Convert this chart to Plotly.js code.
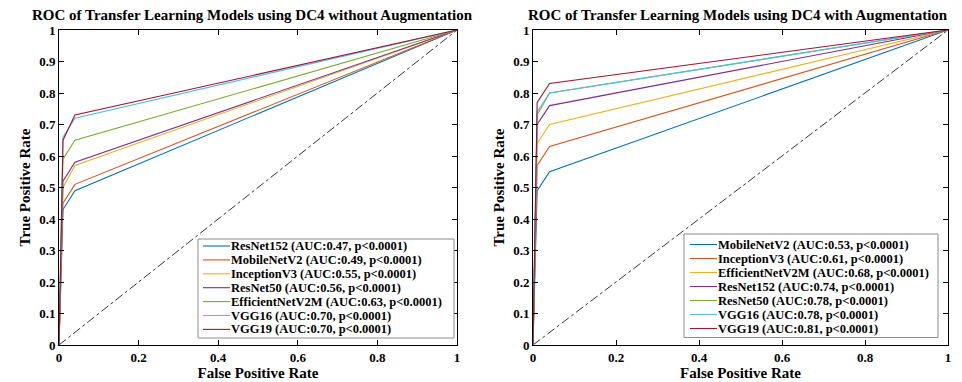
<!DOCTYPE html>
<html>
<head>
<meta charset="utf-8">
<script src="https://cdn.plot.ly/plotly-3.0.1.min.js"></script>
<style>html,body{margin:0;padding:0;background:#fff;}#chart{width:962px;height:382px;}</style>
</head>
<body>
<div id="chart"></div>
<script>
// ---- data ----
const fpr = [0, 0.01, 0.04, 1];
const chance = [0, 1];

// Left panel: DC4 without augmentation
const namesLeft = ['ResNet152', 'MobileNetV2', 'InceptionV3', 'ResNet50', 'EfficientNetV2M', 'VGG16', 'VGG19'];
const aucLeft = ['0.47', '0.49', '0.55', '0.56', '0.63', '0.70', '0.70'];
const tprLeft_ResNet152 = [0, 0.43, 0.49, 1];
const tprLeft_MobileNetV2 = [0, 0.45, 0.51, 1];
const tprLeft_InceptionV3 = [0, 0.50, 0.57, 1];
const tprLeft_ResNet50 = [0, 0.52, 0.58, 1];
const tprLeft_EfficientNetV2M = [0, 0.59, 0.65, 1];
const tprLeft_VGG16 = [0, 0.66, 0.72, 1];
const tprLeft_VGG19 = [0, 0.65, 0.73, 1];

// Right panel: DC4 with augmentation
const namesRight = ['MobileNetV2', 'InceptionV3', 'EfficientNetV2M', 'ResNet152', 'ResNet50', 'VGG16', 'VGG19'];
const aucRight = ['0.53', '0.61', '0.68', '0.74', '0.78', '0.78', '0.81'];
const tprRight_MobileNetV2 = [0, 0.49, 0.55, 1];
const tprRight_InceptionV3 = [0, 0.57, 0.63, 1];
const tprRight_EfficientNetV2M = [0, 0.64, 0.70, 1];
const tprRight_ResNet152 = [0, 0.70, 0.76, 1];
const tprRight_ResNet50 = [0, 0.73, 0.80, 1];
const tprRight_VGG16 = [0, 0.74, 0.80, 1];
const tprRight_VGG19 = [0, 0.77, 0.83, 1];

const pText = 'p<0.0001';
const xTicks = [0, 0.2, 0.4, 0.6, 0.8, 1];
const yTicks = [0, 0.1, 0.2, 0.3, 0.4, 0.5, 0.6, 0.7, 0.8, 0.9, 1];

// ---- styling ----
const colors = ['#0072BD', '#D95319', '#EDB120', '#7E2F8E', '#77AC30', '#4DBEEE', '#A2142F'];
const FONT = '"Liberation Serif", "Times New Roman", serif';
const W = 962, H = 382;
const px = x => x / W;
const py = y => 1 - y / H;

const leftSeries = [tprLeft_ResNet152, tprLeft_MobileNetV2, tprLeft_InceptionV3, tprLeft_ResNet50, tprLeft_EfficientNetV2M, tprLeft_VGG16, tprLeft_VGG19];
const rightSeries = [tprRight_MobileNetV2, tprRight_InceptionV3, tprRight_EfficientNetV2M, tprRight_ResNet152, tprRight_ResNet50, tprRight_VGG16, tprRight_VGG19];

const traces = [];
function addPanel(series, names, aucs, xa, ya) {
  traces.push({x: chance, y: chance, xaxis: xa, yaxis: ya, mode: 'lines', showlegend: false,
    line: {color: '#000', width: 0.8, dash: 'dashdot'}, hoverinfo: 'skip'});
  series.forEach((s, i) => {
    traces.push({x: fpr, y: s, xaxis: xa, yaxis: ya, mode: 'lines', showlegend: false,
      name: names[i] + ' (AUC:' + aucs[i] + ', ' + pText + ')',
      line: {color: colors[i], width: 1.1}});
  });
}
addPanel(leftSeries, namesLeft, aucLeft, 'x', 'y');
addPanel(rightSeries, namesRight, aucRight, 'x2', 'y2');

const tickFont = {family: FONT, size: 13, color: '#000', weight: 'bold'};
const titleFont = {family: FONT, size: 15, color: '#000', weight: 'bold'};
function axisX(domain, anchor) {
  return {domain: domain, anchor: anchor, range: [0, 1], tickvals: xTicks, ticktext: xTicks.map(String),
    showline: true, linecolor: '#000', linewidth: 1, mirror: 'ticks', ticks: 'inside', ticklen: 5,
    tickcolor: '#000', showgrid: false, zeroline: false, tickfont: tickFont,
    title: {text: 'False Positive Rate', font: titleFont, standoff: 2}};
}
function axisY(domain, anchor) {
  return {domain: domain, anchor: anchor, range: [0, 1], tickvals: yTicks, ticktext: yTicks.map(String),
    showline: true, linecolor: '#000', linewidth: 1, mirror: 'ticks', ticks: 'inside', ticklen: 5,
    tickcolor: '#000', showgrid: false, zeroline: false, tickfont: tickFont,
    title: {text: 'True Positive Rate', font: titleFont, standoff: 4}};
}

const yDom = [py(345), py(30)];
const layout = {
  width: W, height: H, margin: {l: 0, r: 0, t: 0, b: 0},
  paper_bgcolor: '#fff', plot_bgcolor: '#fff', showlegend: false,
  xaxis: axisX([px(59), px(457)], 'y'),
  yaxis: axisY(yDom, 'x'),
  xaxis2: axisX([px(533), px(948)], 'y2'),
  yaxis2: axisY(yDom, 'x2'),
  annotations: [], shapes: []
};

layout.annotations.push({text: 'ROC of Transfer Learning Models using DC4 without Augmentation',
  xref: 'paper', yref: 'paper', x: px(252), y: py(15), xanchor: 'center', yanchor: 'middle',
  showarrow: false, font: {family: FONT, size: 15, color: '#000', weight: 'bold'}});
layout.annotations.push({text: 'ROC of Transfer Learning Models using DC4 with Augmentation',
  xref: 'paper', yref: 'paper', x: px(738), y: py(15), xanchor: 'center', yanchor: 'middle',
  showarrow: false, font: {family: FONT, size: 15, color: '#000', weight: 'bold'}});

// manual legends (compact, like the reference)
function addLegend(names, aucs, box, lineX0, lineX1, textX, row0, rowStep) {
  layout.shapes.push({type: 'rect', xref: 'paper', yref: 'paper', x0: px(box[0]), x1: px(box[1]),
    y0: py(box[3]), y1: py(box[2]), line: {color: '#8c8c8c', width: 1}, fillcolor: '#fff', layer: 'above'});
  names.forEach((n, i) => {
    const y = row0 + i * rowStep;
    layout.shapes.push({type: 'line', xref: 'paper', yref: 'paper', x0: px(lineX0), x1: px(lineX1),
      y0: py(y), y1: py(y), line: {color: colors[i], width: 1.1}, layer: 'above'});
    layout.annotations.push({text: n + ' (AUC:' + aucs[i] + ', ' + pText + ')', xref: 'paper', yref: 'paper',
      x: px(textX), y: py(y), xanchor: 'left', yanchor: 'middle', showarrow: false,
      font: {family: FONT, size: 12.5, color: '#000', weight: 'bold'}});
  });
}
addLegend(namesLeft, aucLeft, [198, 454, 239, 338], 203, 230, 229, 246, 13.9);
addLegend(namesRight, aucRight, [684, 938, 234, 337.5], 690, 717, 716, 244.5, 14.0);

Plotly.newPlot('chart', traces, layout, {staticPlot: true, displayModeBar: false});
</script>
</body>
</html>
